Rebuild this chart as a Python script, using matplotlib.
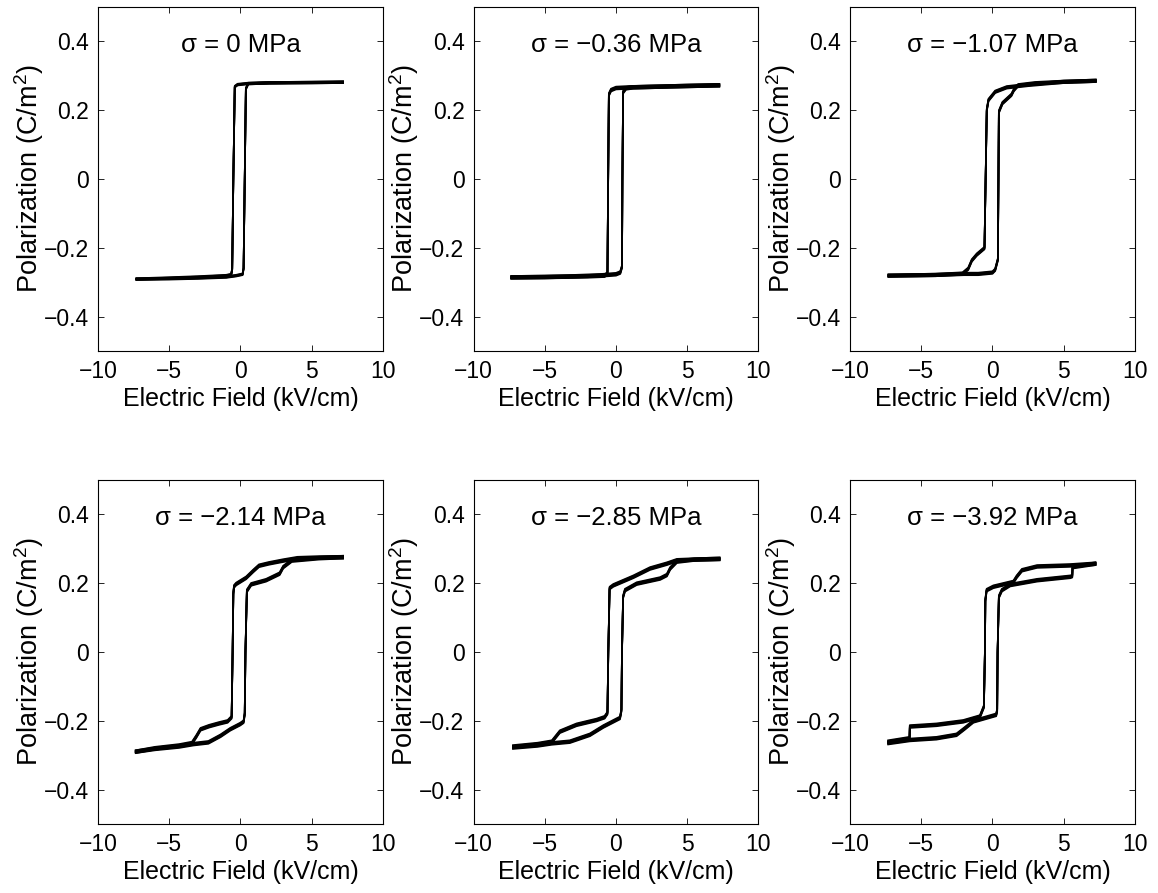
import matplotlib
matplotlib.use("Agg")
import matplotlib.pyplot as plt
from matplotlib.transforms import offset_copy

plt.rcParams['font.family'] = ['Liberation Sans', 'DejaVu Sans']
plt.rcParams['mathtext.fontset'] = 'custom'
plt.rcParams['mathtext.rm'] = 'Liberation Sans'
plt.rcParams['mathtext.it'] = 'Liberation Sans:italic'

# Applied stress for each panel (MPa)
stress_labels = ["0", "\u22120.36", "\u22121.07", "\u22122.14", "\u22122.85", "\u22123.92"]

# Hysteresis loops: field E (kV/cm) and polarization P (C/m^2)
# "up" = increasing field branch, "dn" = decreasing field branch
E1_up = [-7.3, -5, -3, -1, -0.3, 0.15, 0.22, 0.3, 0.38, 0.55, 2, 5, 7.2]
P1_up = [-0.291, -0.290, -0.288, -0.285, -0.281, -0.277, -0.26, 0.0, 0.262, 0.277, 0.279, 0.280, 0.281]
E1_dn = [7.2, 5, 2, 0.5, -0.2, -0.4, -0.5, -0.58, -0.65, -1, -3, -5, -7.3]
P1_dn = [0.281, 0.280, 0.279, 0.277, 0.274, 0.268, 0.0, -0.262, -0.278, -0.281, -0.285, -0.288, -0.291]

E2_up = [-7.35, -5, -3, -1, 0, 0.3, 0.42, 0.45, 0.5, 0.7, 1.2, 3, 5, 7.25]
P2_up = [-0.286, -0.285, -0.283, -0.280, -0.277, -0.272, -0.255, 0.0, 0.252, 0.263, 0.266, 0.268, 0.270, 0.272]
E2_dn = [7.25, 5, 3, 1, 0.0, -0.35, -0.5, -0.55, -0.6, -0.8, -2, -5, -7.35]
P2_dn = [0.272, 0.270, 0.268, 0.266, 0.264, 0.258, 0.245, 0.0, -0.275, -0.281, -0.283, -0.285, -0.286]

E3_up = [-7.3, -4, -2, -1, 0.0, 0.19, 0.38, 0.42, 0.45, 0.7, 1.33, 1.5, 1.8, 3, 5, 7.25]
P3_up = [-0.281, -0.279, -0.276, -0.276, -0.272, -0.264, -0.234, 0.0, 0.195, 0.22, 0.244, 0.258, 0.272, 0.278, 0.282, 0.285]
E3_dn = [7.25, 5, 2.5, 1.0, 0.19, -0.28, -0.4, -0.48, -0.56, -1.1, -1.45, -1.7, -2.1, -4, -7.3]
P3_dn = [0.285, 0.282, 0.273, 0.266, 0.253, 0.229, 0.2, 0.0, -0.201, -0.22, -0.237, -0.261, -0.275, -0.279, -0.281]

E4_up = [-7.35, -6, -4.3, -3.3, -2.25, -1.4, -0.72, -0.02, 0.22, 0.3, 0.35, 0.45, 0.75, 1.8, 2.75, 3.0, 3.6, 5.5, 7.2]
P4_up = [-0.29, -0.282, -0.275, -0.268, -0.263, -0.244, -0.225, -0.21, -0.203, -0.18, 0.0, 0.177, 0.196, 0.208, 0.227, 0.246, 0.265, 0.272, 0.275]
E4_dn = [7.2, 5.5, 4.0, 3.0, 2.0, 1.3, 0.9, 0.4, -0.3, -0.45, -0.5, -0.55, -0.62,
         -0.9, -1.5, -2.2, -2.8, -3.1, -3.4, -4.3, -6, -7.35]
P4_dn = [0.275, 0.274, 0.272, 0.265, 0.257, 0.250, 0.235, 0.215, 0.197, 0.19, 0.17, 0.0, -0.19,
         -0.202, -0.208, -0.216, -0.225, -0.246, -0.265, -0.272, -0.28, -0.29]

E5_up = [-7.23, -5.5, -4.53, -3.24, -1.83, -0.89, 0.28, 0.38, 0.42, 0.5, 0.63, 1.45, 3.1, 3.57, 3.8, 4.27, 5.5, 7.27]
P5_up = [-0.278, -0.272, -0.266, -0.261, -0.241, -0.217, -0.192, -0.17, 0.0, 0.16, 0.179, 0.198, 0.213, 0.223, 0.242, 0.262, 0.268, 0.27]
E5_dn = [7.27, 5.5, 4.27, 3.57, 2.39, 1.22, -0.19, -0.45, -0.54, -0.6, -0.8, -1.36, -2.77, -3.94, -4.5, -5.5, -7.23]
P5_dn = [0.27, 0.268, 0.266, 0.256, 0.242, 0.218, 0.193, 0.185, 0.0, -0.178, -0.19, -0.198, -0.212, -0.232, -0.261, -0.268, -0.275]

E6_up = [-7.32, -5.8, -3.93, -2.52, -1.93, -1.34, 0.26, 0.33, 0.36, 0.45, 0.66, 1.24, 3.13, 5.47, 5.6, 5.62, 7.23]
P6_up = [-0.265, -0.256, -0.251, -0.241, -0.222, -0.202, -0.183, -0.17, 0.0, 0.16, 0.179, 0.194, 0.208, 0.218, 0.22, 0.246, 0.256]
E6_dn = [7.23, 5.47, 3.13, 2.07, 1.7, 1.47, 0.06, -0.41, -0.5, -0.53, -0.6, -0.88, -2.05, -3.93, -5.8, -5.82, -7.32]
P6_dn = [0.256, 0.251, 0.248, 0.237, 0.218, 0.203, 0.189, 0.179, 0.15, 0.0, -0.159, -0.188, -0.202, -0.212, -0.217, -0.251, -0.261]

loops = [
    (E1_up, P1_up, E1_dn, P1_dn),
    (E2_up, P2_up, E2_dn, P2_dn),
    (E3_up, P3_up, E3_dn, P3_dn),
    (E4_up, P4_up, E4_dn, P4_dn),
    (E5_up, P5_up, E5_dn, P5_dn),
    (E6_up, P6_up, E6_dn, P6_dn),
]

# measurement scatter shown as a vertical spread of the trace (points)
spread = [0.6, 1.0, 0.9, 1.0, 1.0, 1.0]

x_ticks = [-10, -5, 0, 5, 10]
x_ticklabels = ["\u221210", "\u22125", "0", "5", "10"]
y_ticks = [-0.4, -0.2, 0, 0.2, 0.4]
y_ticklabels = ["\u22120.4", "\u22120.2", "0", "0.2", "0.4"]

fig = plt.figure(figsize=(11.58, 8.93), dpi=100)

lefts = [0.0846, 0.4089, 0.7340]
bottoms = [0.6069, 0.0773]
width, height = 0.2461, 0.3855

for k, (Eu, Pu, Ed, Pd) in enumerate(loops):
    row, col = divmod(k, 3)
    ax = fig.add_axes([lefts[col], bottoms[row], width, height])
    s = spread[k]
    for dy in [-s, -s / 2, 0, s / 2, s]:
        tr = offset_copy(ax.transData, fig=fig, x=0, y=dy, units='points')
        ax.plot(Eu, Pu, color='black', lw=1.25, transform=tr, solid_joinstyle='round')
        ax.plot(Ed, Pd, color='black', lw=1.25, transform=tr, solid_joinstyle='round')
    ax.set_xlim(-10, 10)
    ax.set_ylim(-0.5, 0.5)
    ax.set_xticks(x_ticks)
    ax.set_xticklabels(x_ticklabels)
    ax.set_yticks(y_ticks)
    ax.set_yticklabels(y_ticklabels)
    ax.tick_params(direction='in', top=True, right=True, length=4, width=0.6,
                   labelsize=16.5, pad=6.5)
    for sp in ax.spines.values():
        sp.set_linewidth(0.8)
    ax.set_xlabel("Electric Field (kV/cm)", fontsize=18, va='center')
    ax.xaxis.set_label_coords(0.5, -0.14)
    ax.set_ylabel("Polarization (C/m$^2$)", fontsize=19.5, va='center')
    ax.yaxis.set_label_coords(-0.242, 0.5)
    ax.text(0, 0.39, "\u03c3 = %s MPa" % stress_labels[k], ha='center', va='center',
            fontsize=18.5)

fig.savefig("out.png", dpi=100)
